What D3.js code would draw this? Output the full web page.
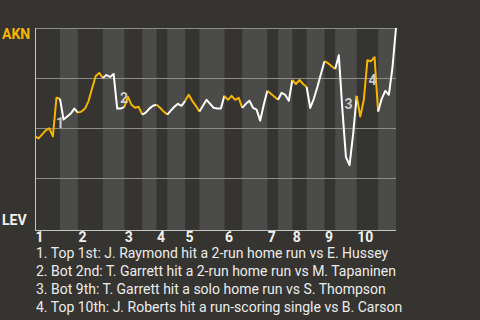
<!DOCTYPE html>
<html>
<head>
<meta charset="utf-8">
<script src="https://cdn.jsdelivr.net/npm/d3@7"></script>
<style>
    body { margin: 0; background: #363430; }
    svg { display: block; font-family: Roboto, "Noto Sans", sans-serif; }
</style>
</head>
<body>
<div id="chart"></div>
<script>
// Game data
let teams = {"away": "AKN", "home": "LEV"};
let innings = ["1", "2", "3", "4", "5", "6", "7", "8", "9", "10"];
// plate appearances per half inning (top, bottom, top, bottom ...)
let halfInningPAs = [7, 5, 7, 6, 5, 4, 3, 5, 4, 7, 5, 7, 3, 4, 4, 5, 3, 6, 6, 5];
// AKN win probability (%) after each plate appearance
let winProb = [
    45.8, 44.8, 46.8, 48.8, 49.8, 45.8, 65.1, 64.6, 54.2, 55.7,
    57.2, 59.7, 57.7, 58.2, 59.7, 63.6, 70.0, 76.0, 77.5, 75.0,
    76.5, 75.5, 77.0, 59.7, 59.7, 60.6, 65.6, 61.6, 60.1, 60.6,
    56.7, 57.7, 59.7, 61.1, 61.6, 60.1, 58.2, 56.7, 58.7, 60.6,
    62.1, 61.1, 63.6, 66.6, 63.6, 61.1, 58.2, 61.1, 64.1, 62.1,
    60.1, 59.7, 59.7, 66.1, 64.1, 66.1, 64.1, 65.1, 60.1, 62.1,
    63.6, 60.1, 59.2, 53.7, 61.6, 68.6, 67.1, 65.6, 64.1, 67.6,
    66.6, 63.6, 74.0, 72.0, 74.0, 72.0, 70.5, 60.1, 64.6, 70.5,
    77.0, 83.4, 82.4, 80.9, 79.5, 86.4, 59.2, 35.4, 31.4, 46.8,
    66.1, 55.7, 64.1, 83.9, 83.4, 85.4, 58.2, 64.6, 68.6, 66.6,
    80.0, 100
];
// big plays: label number, where it sits (PA index, win prob) and description
let playLabels = ["1", "2", "3", "4"];
let playAt = [7.0, 24.9, 87.7, 94.4];
let playProb = [52.7, 65.2, 62.2, 74.2];
let playText = [
    "Top 1st: J. Raymond hit a 2-run home run vs E. Hussey",
    "Bot 2nd: T. Garrett hit a 2-run home run vs M. Tapaninen",
    "Bot 9th: T. Garrett hit a solo home run vs S. Thompson",
    "Top 10th: J. Roberts hit a run-scoring single vs B. Carson"
];
let gridTicks = [25, 50, 75, 100];

function winProbChart(){
    // SVG Setup Details
    let width = 480, height = 320;
    let margin = {"top": 28, "left": 35, "right": 84};
    let plotBottom = 230;

    let yellow = "#f6b600";
    let white = "#ffffff";

    let svg = d3.select("#chart").append("svg")
        .attr("width", width)
        .attr("height", height);

    svg.append("rect")
        .attr("width", width).attr("height", height)
        .attr("fill", "#363430");

    // half inning boundaries in PA units
    let bounds = [0];
    halfInningPAs.forEach(n => bounds.push(bounds[bounds.length - 1] + n));
    let total = bounds[bounds.length - 1];

    let x = d3.scaleLinear().domain([0, total]).range([margin.left, width - margin.right]);
    let y = d3.scaleLinear().domain([0, 100]).range([228, margin.top]);

    // shaded bottom halves
    svg.selectAll(".band")
        .data(halfInningPAs)
        .enter().append("rect")
        .attr("class", "band")
        .attr("x", (d, i) => x(bounds[i]))
        .attr("width", (d, i) => x(bounds[i + 1]) - x(bounds[i]))
        .attr("y", margin.top)
        .attr("height", plotBottom - margin.top)
        .attr("fill", (d, i) => i % 2 ? "#4b4b49" : "none");

    // grid lines
    svg.selectAll(".grid")
        .data(gridTicks)
        .enter().append("line")
        .attr("x1", x(0)).attr("x2", x(total))
        .attr("y1", d => Math.floor(y(d)) + 0.5)
        .attr("y2", d => Math.floor(y(d)) + 0.5)
        .attr("stroke", "#8c8c8a")
        .attr("stroke-width", 1);

    // axis lines
    svg.append("line")
        .attr("x1", x(0) + 0.5).attr("x2", x(0) + 0.5)
        .attr("y1", margin.top).attr("y2", plotBottom + 1)
        .attr("stroke", "#c4c4c4");
    svg.append("line")
        .attr("x1", x(0)).attr("x2", x(total))
        .attr("y1", plotBottom + 0.5).attr("y2", plotBottom + 0.5)
        .attr("stroke", "#c4c4c4");

    // win probability line, coloured per half inning
    let line = d3.line().x(d => x(d.i)).y(d => y(d.p));
    let points = winProb.map((p, i) => ({"i": i, "p": p}));
    halfInningPAs.forEach((n, h) => {
        svg.append("path")
            .datum(points.slice(bounds[h], bounds[h + 1] + 1))
            .attr("d", line)
            .attr("fill", "none")
            .attr("stroke", h % 2 ? white : yellow)
            .attr("stroke-width", 2)
            .attr("stroke-linejoin", "round");
    });

    // play markers
    svg.selectAll(".play")
        .data(playLabels)
        .enter().append("text")
        .attr("x", (d, i) => x(playAt[i]))
        .attr("y", (d, i) => y(playProb[i]))
        .attr("dy", "0.36em")
        .attr("text-anchor", "middle")
        .attr("font-size", 14)
        .attr("font-weight", "bold")
        .attr("fill", "#dedede")
        .attr("fill-opacity", 0.9)
        .text(d => d);

    // team labels
    svg.append("text")
        .attr("x", 2).attr("y", 38.5)
        .attr("font-size", 14).attr("font-weight", "bold")
        .attr("fill", yellow)
        .text(teams.away);
    svg.append("text")
        .attr("x", 2).attr("y", 225)
        .attr("font-size", 14).attr("font-weight", "bold")
        .attr("fill", "#f2f2f2")
        .text(teams.home);

    // inning numbers at the start of each top half
    svg.selectAll(".inning")
        .data(innings)
        .enter().append("text")
        .attr("x", (d, i) => x(bounds[i * 2]) + 0.5)
        .attr("y", 241.5)
        .attr("font-size", 14)
        .attr("font-weight", "bold")
        .attr("fill", "#f2f2f2")
        .text(d => d);

    // legend
    svg.selectAll(".legend")
        .data(playText)
        .enter().append("text")
        .attr("x", 36)
        .attr("y", (d, i) => 258.3 + i * 17.8)
        .attr("font-size", 14)
        .attr("fill", "#ececec")
        .text((d, i) => playLabels[i] + ". " + d);
}

winProbChart();
</script>
</body>
</html>
